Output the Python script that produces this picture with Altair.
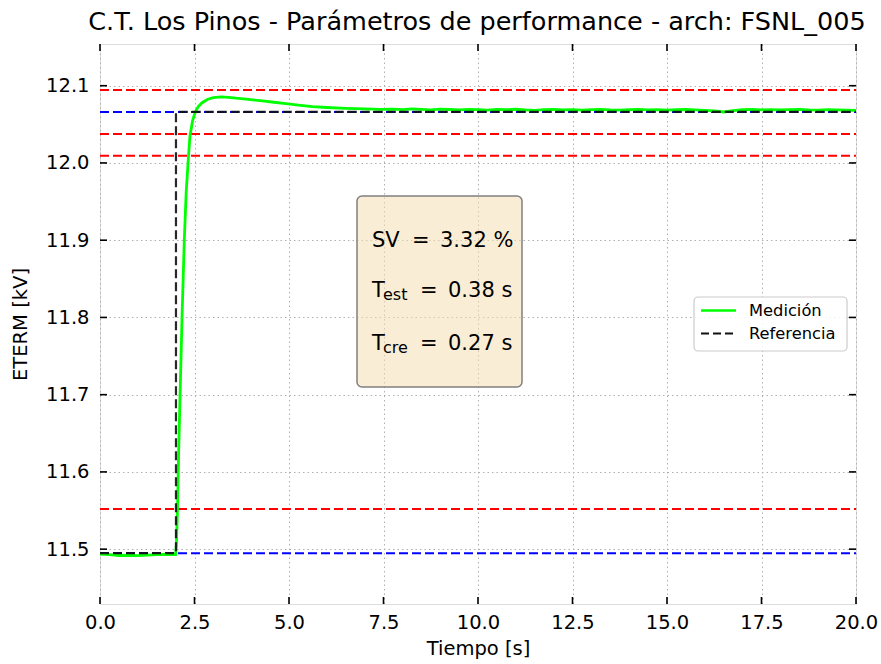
import altair as alt
import pandas as pd

# ---------------- data ----------------
t_med = [0.0, 0.25, 0.5, 0.75, 1.0, 1.25, 1.5, 1.75, 2.0,
         2.02, 2.05, 2.08, 2.12, 2.17, 2.23, 2.28, 2.34, 2.38, 2.45, 2.52,
         2.6, 2.7, 2.85, 3.0, 3.2, 3.4, 3.6, 3.86, 4.1, 4.3, 4.6, 4.92,
         5.25, 5.62, 6.0, 6.5, 7.0, 7.4, 7.75, 8.0, 8.25, 8.5, 8.75, 9.0,
         9.25, 9.5, 9.75, 10.0, 10.25, 10.5, 10.75, 11.0, 11.25, 11.5, 11.75,
         12.0, 12.25, 12.5, 12.75, 13.0, 13.25, 13.5, 13.75, 14.0, 14.25,
         14.5, 14.75, 15.0, 15.25, 15.5, 15.75, 16.0, 16.25, 16.5, 16.75,
         17.0, 17.25, 17.5, 17.75, 18.0, 18.25, 18.5, 18.75, 19.0, 19.25,
         19.5, 19.75, 20.0]
v_med = [11.4935, 11.4928, 11.4918, 11.4921, 11.4917, 11.4922, 11.4930, 11.4934, 11.4931,
         11.505, 11.552, 11.625, 11.703, 11.800, 11.900, 11.962, 12.008, 12.035, 12.055, 12.066,
         12.073, 12.078, 12.0825, 12.0845, 12.0855, 12.0850, 12.0838, 12.0826, 12.0812, 12.0803,
         12.0786, 12.0768, 12.0748, 12.0730, 12.0718, 12.0707, 12.0700, 12.0693, 12.0697, 12.0690,
         12.0701, 12.0694, 12.0688, 12.0697, 12.0692, 12.0686, 12.0694, 12.0690, 12.0684, 12.0693,
         12.0689, 12.0695, 12.0686, 12.0681, 12.0690, 12.0694, 12.0688, 12.0691, 12.0685, 12.0690,
         12.0694, 12.0687, 12.0683, 12.0689, 12.0693, 12.0686, 12.0690, 12.0684, 12.0689, 12.0692,
         12.0686, 12.0681, 12.0675, 12.0660, 12.0678, 12.0690, 12.0694, 12.0688, 12.0691, 12.0686,
         12.0690, 12.0693, 12.0687, 12.0684, 12.0690, 12.0686, 12.0682, 12.0680]

t_ref = [0.0, 2.01, 2.01, 20.0]
v_ref = [11.4948, 11.4948, 12.066, 12.066]

h_blue = [11.4948, 12.066]
h_red = [11.5519, 12.0092, 12.0375, 12.0946]

x_ticks = [0.0, 2.5, 5.0, 7.5, 10.0, 12.5, 15.0, 17.5, 20.0]
y_ticks = [11.5, 11.6, 11.7, 11.8, 11.9, 12.0, 12.1]

title_text = "C.T. Los Pinos - Parámetros de performance - arch: FSNL_005"
x_title = "Tiempo [s]"
y_title = "ETERM [kV]"
legend_labels = ["Medición", "Referencia"]
sv_value = "3.32 %"
test_value = "0.38 s"
tcre_value = "0.27 s"

# ---------------- layout ----------------
W, H = 756, 560
FONT = "DejaVu Sans"
xs = alt.Scale(domain=[0, 20], nice=False, zero=False)
ys = alt.Scale(domain=[11.429, 12.154], nice=False, zero=False)

x_axis = alt.Axis(values=x_ticks, format=".1f", title=x_title, grid=True,
                  ticks=False, tickSize=0, domain=False, labelPadding=9, titlePadding=8,
                  labelFontSize=19.5, titleFontSize=19.5, labelColor="#000",
                  titleColor="#000", titleFontWeight="normal", labelFont=FONT,
                  titleFont=FONT, gridDash=[1.5, 3], gridColor="#b0b0b0",
                  gridWidth=1, labelFlush=False)
y_axis = alt.Axis(values=y_ticks, format=".1f", title=y_title, grid=True,
                  ticks=False, tickSize=0, domain=False, labelPadding=11, titlePadding=15,
                  labelFontSize=19.5, titleFontSize=19.5, labelColor="#000",
                  titleColor="#000", titleFontWeight="normal", labelFont=FONT,
                  titleFont=FONT, gridDash=[1.5, 3], gridColor="#b0b0b0",
                  gridWidth=1, labelFlush=False)

def X(field="t"):
    return alt.X(f"{field}:Q", scale=xs, axis=x_axis)

def Y(field="v"):
    return alt.Y(f"{field}:Q", scale=ys, axis=y_axis)

med_df = pd.DataFrame({"t": t_med, "v": v_med})
ref_df = pd.DataFrame({"t": t_ref, "v": v_ref})
blue_df = pd.DataFrame({"v": h_blue})
red_df = pd.DataFrame({"v": h_red})
xt_df = pd.DataFrame({"t": x_ticks})
yt_df = pd.DataFrame({"v": y_ticks})
one = pd.DataFrame({"k": [0]})

DASH = [9, 4]

red_lines = alt.Chart(red_df).mark_rule(color="#ff0000", strokeWidth=2, strokeDash=DASH).encode(
    y=Y(), x=alt.value(0), x2=alt.value(W))
blue_lines = alt.Chart(blue_df).mark_rule(color="#0000ff", strokeWidth=2, strokeDash=DASH).encode(
    y=Y(), x=alt.value(0), x2=alt.value(W))
med_line = alt.Chart(med_df).mark_line(color="#00ff00", strokeWidth=2.8).encode(
    x=X(), y=Y(), order="t:Q")
ref_line = alt.Chart(ref_df).transform_window(idx="row_number()").mark_line(
    color="#111111", strokeWidth=2.2, strokeDash=DASH, opacity=0.9).encode(
    x=X(), y=Y(), order="idx:Q")

# inward ticks on all four sides
TL = 7
tick_style = dict(color="#000", strokeWidth=1.6)
bot_ticks = alt.Chart(xt_df).mark_rule(**tick_style).encode(x=X(), y=alt.value(H), y2=alt.value(H - TL))
top_ticks = alt.Chart(xt_df).mark_rule(**tick_style).encode(x=X(), y=alt.value(0), y2=alt.value(TL))
left_ticks = alt.Chart(yt_df).mark_rule(**tick_style).encode(y=Y(), x=alt.value(0), x2=alt.value(TL))
right_ticks = alt.Chart(yt_df).mark_rule(**tick_style).encode(y=Y(), x=alt.value(W), x2=alt.value(W - TL))

# annotation box
box = alt.Chart(one).mark_rect(fill="#f5deb3", fillOpacity=0.55, stroke="#808080",
                               strokeWidth=1.5, cornerRadius=5).encode(
    x=alt.value(257), x2=alt.value(422), y=alt.value(152), y2=alt.value(343))

def txt(s, x, y, size, align="left"):
    return alt.Chart(one).mark_text(text=s, font=FONT, fontSize=size, color="#000",
                                    align=align, baseline="alphabetic").encode(
        x=alt.value(x), y=alt.value(y))

MS, SS = 21, 16
ann = [
    txt("SV", 272, 202.5, MS), txt("=", 312, 202.5, MS), txt(sv_value, 340, 202.5, MS),
    txt("T", 272, 253, MS), txt("est", 283, 256, SS), txt("=", 320, 253, MS),
    txt(test_value, 348, 253, MS),
    txt("T", 272, 306, MS), txt("cre", 283, 309, SS), txt("=", 320, 306, MS),
    txt(tcre_value, 348, 306, MS),
]

# chart title (drawn as a text mark above the plot area)
title_mark = txt(title_text, 377, -13.6, 25.5, align="center")

# legend
leg_box = alt.Chart(one).mark_rect(fill="white", fillOpacity=0.85, stroke="#cccccc",
                                   strokeWidth=1.2, cornerRadius=4).encode(
    x=alt.value(594), x2=alt.value(747), y=alt.value(253), y2=alt.value(307))
leg_l1 = alt.Chart(one).mark_rule(color="#00ff00", strokeWidth=2.6).encode(
    x=alt.value(601), x2=alt.value(636), y=alt.value(266.5))
leg_l2 = alt.Chart(one).mark_rule(color="#111111", strokeWidth=2.2, strokeDash=[8, 4]).encode(
    x=alt.value(601), x2=alt.value(636), y=alt.value(289.5))
leg_t1 = alt.Chart(one).mark_text(text=legend_labels[0], font=FONT, fontSize=16.3, align="left",
                                  baseline="middle", color="#000").encode(
    x=alt.value(649), y=alt.value(266.5))
leg_t2 = alt.Chart(one).mark_text(text=legend_labels[1], font=FONT, fontSize=16.3, align="left",
                                  baseline="middle", color="#000").encode(
    x=alt.value(649), y=alt.value(289.5))

chart = alt.layer(
    red_lines, blue_lines, med_line, ref_line,
    bot_ticks, top_ticks, left_ticks, right_ticks,
    box, *ann, title_mark, leg_box, leg_l1, leg_l2, leg_t1, leg_t2,
).properties(
    width=W, height=H,
    autosize=alt.AutoSizeParams(type="none"),
    padding={"left": 100, "top": 44, "right": 25, "bottom": 60},
).configure_view(
    stroke="#000", strokeWidth=1.6
).configure(background="white")

chart.save("out.html", embed_options={"renderer": "svg", "actions": False})
